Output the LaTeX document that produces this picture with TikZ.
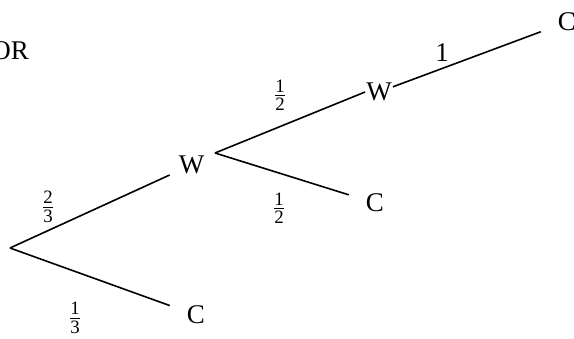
\documentclass[tikz,border=0pt]{standalone}
\usepackage{fontspec}
\setmainfont{Liberation Serif}
\usetikzlibrary{calc}
\newcommand{\prb}[2]{$\frac{\mathrm{#1}}{\mathrm{#2}}$}

\begin{document}
\begin{tikzpicture}[x=1pt, y=-1pt, font=\fontsize{27}{32}\selectfont,
  branch/.style={black, line width=1.6pt},
  leaf/.style={inner sep=17pt},
  prob/.style={inner sep=0}]
\useasboundingbox (0,0) rectangle (574,338);

% ---- heading
\node[anchor=east, inner sep=0] (or) at (29,50.5) {OR};

% ============================================== first draw
\coordinate (root) at (10,248);
\node[inner sep=9pt] (w1) at (191.5,165) {W};
\node[leaf] (c1) at (196,315) {C};
\draw[branch] (root) -- (w1);
\draw[branch] (root) -- (c1);
\node[prob] (p23) at (48,207) {\prb{2}{3}};
\node[prob] (p13) at (75,318) {\prb{1}{3}};

% ============================================== second draw
\coordinate (fork) at ($(w1)+(23.5,-12)$);
\node[inner sep=1pt] (w2) at (379,92) {W};
\node[leaf] (c2) at (375,203) {C};
\draw[branch] (fork) -- (w2.west);
\draw[branch] (fork) -- (c2);
\node[prob] (p12a) at (280,95) {\prb{1}{2}};
\node[prob] (p12b) at (279,208) {\prb{1}{2}};

% ============================================== third draw
\node[leaf] (c3) at (567,22) {C};
\draw[branch] (w2) -- (c3);
\node[prob] (p1) at (442,53) {1};

\end{tikzpicture}
\end{document}
